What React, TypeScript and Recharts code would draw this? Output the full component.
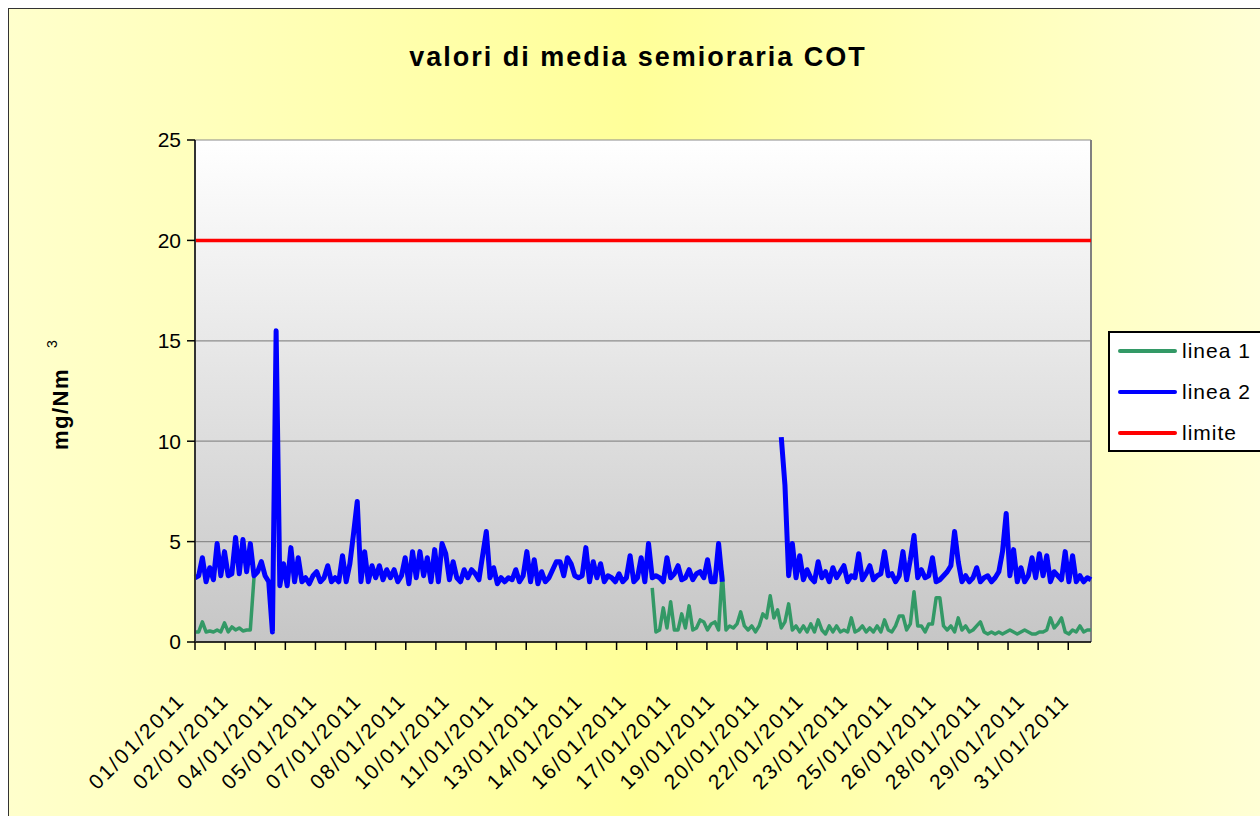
import { LineChart, Line, XAxis, YAxis, CartesianGrid, ReferenceLine, Customized } from 'recharts';

// ---------------------------------------------------------------------------
// Data (half-hour slots, one sample every 6 slots = 3 h)
// ---------------------------------------------------------------------------

const SLOT_STEP = 6;
const SLOT_COUNT = 244;
const X_MAX = 1458;
const TICK_EVERY = 49;
const LABEL_EVERY = 72;
const LIMITE = 20;

const DATE_LABELS = [
  '01/01/2011', '02/01/2011', '04/01/2011', '05/01/2011', '07/01/2011', '08/01/2011',
  '10/01/2011', '11/01/2011', '13/01/2011', '14/01/2011', '16/01/2011', '17/01/2011',
  '19/01/2011', '20/01/2011', '22/01/2011', '23/01/2011', '25/01/2011', '26/01/2011',
  '28/01/2011', '29/01/2011', '31/01/2011',
];

const Y_TICKS = [0, 5, 10, 15, 20, 25];

// linea 1 (green): first stretch, then hidden under linea 2, then from slot 124
const LINEA1_A = [0.5, 0.5, 1.0, 0.5, 0.55, 0.5, 0.6, 0.5, 0.95, 0.5, 0.75, 0.6, 0.7, 0.55, 0.6, 0.6, 3.2];
const LINEA1_B_START = 124;
const LINEA1_B = [
  2.7, 0.5, 0.6, 1.7, 0.7, 2.0, 0.6, 0.6, 1.4, 0.7, 1.8, 0.6, 0.7, 1.1, 1.0, 0.6, 0.9, 1.0, 0.6, 3.5,
  0.6, 0.8, 0.7, 0.9, 1.5, 0.8, 0.6, 0.8, 0.5, 0.8, 1.4, 1.2, 2.3, 1.2, 1.6, 0.7, 1.0, 1.9, 0.6, 0.8,
  0.5, 0.8, 0.5, 0.9, 0.5, 1.1, 0.6, 0.4, 0.8, 0.5, 0.8, 0.5, 0.6, 0.5, 1.2, 0.5, 0.6, 0.8, 0.5, 0.7,
  0.5, 0.8, 0.5, 1.1, 0.6, 0.5, 0.8, 1.3, 1.3, 0.6, 0.9, 2.5, 0.8, 0.8, 0.5, 0.9, 0.9, 2.2, 2.2, 0.8,
  0.6, 0.8, 0.5, 1.2, 0.6, 0.8, 0.5, 0.6, 0.8, 1.0, 0.5, 0.4, 0.5, 0.4, 0.5, 0.4, 0.5, 0.6, 0.5, 0.4,
  0.5, 0.6, 0.5, 0.4, 0.4, 0.5, 0.5, 0.6, 1.2, 0.7, 0.9, 1.2, 0.5, 0.4, 0.6, 0.5, 0.8, 0.5, 0.6, 0.6,
];

// linea 2 (blue): slots 0-143, gap, then from slot 159
const LINEA2_A = [
  3.2, 3.3, 4.2, 3.0, 3.7, 3.1, 4.9, 3.3, 4.5, 3.3, 3.4, 5.2, 3.4, 5.1, 3.5, 4.9, 3.3, 3.5, 4.0, 3.3,
  3.0, 0.5, 15.5, 2.8, 3.9, 2.8, 4.7, 3.0, 4.2, 3.0, 3.2, 2.9, 3.3, 3.5, 3.0, 3.2, 3.8, 3.0, 3.2, 3.0,
  4.3, 3.0, 3.9, 5.4, 7.0, 3.0, 4.5, 3.0, 3.8, 3.2, 3.8, 3.1, 3.6, 3.2, 3.6, 3.0, 3.3, 4.2, 2.9, 4.5,
  3.2, 4.5, 3.3, 4.2, 3.0, 4.6, 3.0, 4.9, 4.4, 3.1, 4.0, 3.2, 3.0, 3.6, 3.2, 3.6, 3.4, 3.1, 4.3, 5.5,
  3.2, 3.7, 2.9, 3.2, 3.0, 3.2, 3.1, 3.6, 3.0, 3.3, 4.5, 3.0, 4.1, 2.9, 3.5, 3.0, 3.2, 3.6, 4.0, 4.0,
  3.3, 4.2, 3.9, 3.3, 3.2, 3.3, 4.7, 3.0, 4.0, 3.2, 3.9, 3.0, 3.3, 3.2, 3.0, 3.4, 3.0, 3.2, 4.3, 3.0,
  3.2, 4.2, 3.0, 4.9, 3.2, 3.3, 3.2, 3.0, 4.2, 3.2, 3.4, 3.8, 3.1, 3.2, 3.6, 3.1, 3.4, 3.5, 3.2, 4.1,
  3.0, 3.0, 4.9, 3.0,
];
const LINEA2_B_START = 159;
const LINEA2_B = [
  10.2, 7.8, 3.3, 4.9, 3.2, 4.3, 3.1, 3.6, 3.2, 3.0, 4.0, 3.2, 3.5, 3.0, 3.7, 3.2, 3.5, 3.8, 3.0, 3.3,
  3.2, 4.4, 3.1, 3.4, 3.8, 3.1, 3.3, 3.4, 4.5, 3.3, 3.4, 3.0, 3.3, 4.5, 3.1, 4.1, 5.3, 3.2, 3.6, 3.2,
  3.3, 4.2, 3.0, 3.1, 3.3, 3.5, 3.8, 5.5, 4.0, 3.0, 3.3, 3.0, 3.2, 3.7, 3.0, 3.2, 3.3, 3.0, 3.2, 3.5,
  4.5, 6.4, 3.3, 4.6, 3.0, 3.7, 3.0, 3.3, 4.2, 3.2, 4.4, 3.3, 4.3, 3.0, 3.5, 3.3, 3.1, 4.5, 3.0, 4.3,
  3.0, 3.3, 3.0, 3.2, 3.1,
];

const SERIES = [
  { key: 'linea1', name: 'linea 1', color: '#339966', width: 3.5 },
  { key: 'linea2', name: 'linea 2', color: '#0000ff', width: 5 },
  { key: 'limite', name: 'limite', color: '#ff0000', width: 3.5 },
];

const pick = (i: number, a: number[], bStart: number, b: number[]) =>
  i < a.length ? a[i] : i >= bStart && i - bStart < b.length ? b[i - bStart] : null;

const tableData = Array.from({ length: SLOT_COUNT }, (_, i) => ({
  slot: i * SLOT_STEP,
  linea1: pick(i, LINEA1_A, LINEA1_B_START, LINEA1_B),
  linea2: pick(i, LINEA2_A, LINEA2_B_START, LINEA2_B),
  limite: LIMITE,
}));

const X_TICKS = Array.from(
  new Set([
    ...Array.from({ length: Math.floor(X_MAX / TICK_EVERY) + 1 }, (_, k) => k * TICK_EVERY),
    ...DATE_LABELS.map((_, k) => k * LABEL_EVERY),
  ]),
).sort((a, b) => a - b);

const FONT = "'Liberation Sans', Arial, sans-serif";

// ---------------------------------------------------------------------------
// Pieces
// ---------------------------------------------------------------------------

function DateTick({ x, y, payload }: any) {
  const v = payload.value as number;
  const mark = v % TICK_EVERY === 0;
  const li = v % LABEL_EVERY === 0 ? v / LABEL_EVERY : -1;
  return (
    <g>
      {mark && <line x1={x} x2={x} y1={y} y2={y + 8} stroke="#000" strokeWidth={1.5} />}
      {li >= 0 && li < DATE_LABELS.length && (
        <text
          transform={`translate(${x - 9},${y + 60}) rotate(-45)`}
          textAnchor="end"
          fontSize={21}
          letterSpacing={2.2}
          fontFamily={FONT}
          fill="#000"
        >
          {DATE_LABELS[li]}
        </text>
      )}
    </g>
  );
}

function Decorations() {
  return (
    <g>
      <defs>
        <linearGradient id="plotBg" x1="0" y1="0" x2="0" y2="1">
          <stop offset="0%" stopColor="#ffffff" />
          <stop offset="100%" stopColor="#c6c6c6" />
        </linearGradient>
      </defs>
      <text x={638} y={66} textAnchor="middle" fontSize={27} fontWeight="bold" letterSpacing={2} fontFamily={FONT} fill="#000">
        valori di media semioraria COT
      </text>
      <text transform="translate(68,450) rotate(-90)" fontSize={22} fontWeight="bold" letterSpacing={1.5} fontFamily={FONT} fill="#000">
        mg/Nm
        <tspan fontSize={14} fontWeight="normal" dx={20} dy={-11}>3</tspan>
      </text>
    </g>
  );
}

function LegendBox() {
  return (
    <div
      style={{
        position: 'absolute',
        left: 1108,
        top: 331,
        width: 170,
        height: 121,
        boxSizing: 'border-box',
        border: '2px solid #000',
        background: '#fff',
        fontFamily: FONT,
      }}
    >
      <div style={{ marginTop: -3 }}>
        {SERIES.map((s) => (
          <div key={s.key} style={{ display: 'flex', alignItems: 'center', height: 41 }}>
            <span style={{ display: 'inline-block', width: 59, height: 4, marginLeft: 8, background: s.color, borderRadius: 2 }} />
            <span style={{ marginLeft: 5, fontSize: 21, letterSpacing: 1, color: '#000' }}>{s.name}</span>
          </div>
        ))}
      </div>
    </div>
  );
}

// ---------------------------------------------------------------------------
// Chart
// ---------------------------------------------------------------------------

export default function App() {
  return (
    <div style={{ position: 'absolute', left: 0, top: 0, width: 1260, height: 816, overflow: 'hidden', background: '#fff' }}>
      <div
        style={{
          position: 'absolute',
          left: 8,
          top: 8,
          width: 1260,
          height: 816,
          borderLeft: '1.5px solid #333',
          borderTop: '1.5px solid #333',
          background: 'linear-gradient(90deg, #ffffcc 0%, #ffff99 50%, #ffffd6 100%)',
        }}
      />
      <div style={{ position: 'absolute', left: 0, top: 0 }}>
        <LineChart
          width={1260}
          height={816}
          data={tableData}
          margin={{ top: 140, right: 169, bottom: 54, left: 115 }}
          style={{ fontFamily: FONT }}
        >
          <Customized component={Decorations} />
          <CartesianGrid vertical={false} stroke="#8c8c8c" strokeWidth={1.2} fill="url(#plotBg)" fillOpacity={1} />
          <XAxis
            type="number"
            dataKey="slot"
            domain={[0, X_MAX]}
            ticks={X_TICKS}
            interval={0}
            tick={<DateTick />}
            tickLine={false}
            tickSize={0}
            tickMargin={0}
            axisLine={{ stroke: '#000', strokeWidth: 1.5 }}
            height={120}
          />
          <YAxis
            domain={[0, 25]}
            ticks={Y_TICKS}
            interval={0}
            width={80}
            tickSize={8}
            tickMargin={6}
            tickLine={{ stroke: '#000', strokeWidth: 1.5 }}
            axisLine={{ stroke: '#333', strokeWidth: 2 }}
            tick={{ fontSize: 21, fill: '#000', fontFamily: FONT }}
          />
          <ReferenceLine x={X_MAX} stroke="#808080" strokeWidth={2} />
          {SERIES.map((s) => (
            <Line
              key={s.key}
              type="linear"
              dataKey={s.key}
              name={s.name}
              stroke={s.color}
              strokeWidth={s.width}
              dot={false}
              activeDot={false}
              connectNulls={false}
              isAnimationActive={false}
              strokeLinejoin="round"
            />
          ))}
        </LineChart>
      </div>
      <LegendBox />
    </div>
  );
}
